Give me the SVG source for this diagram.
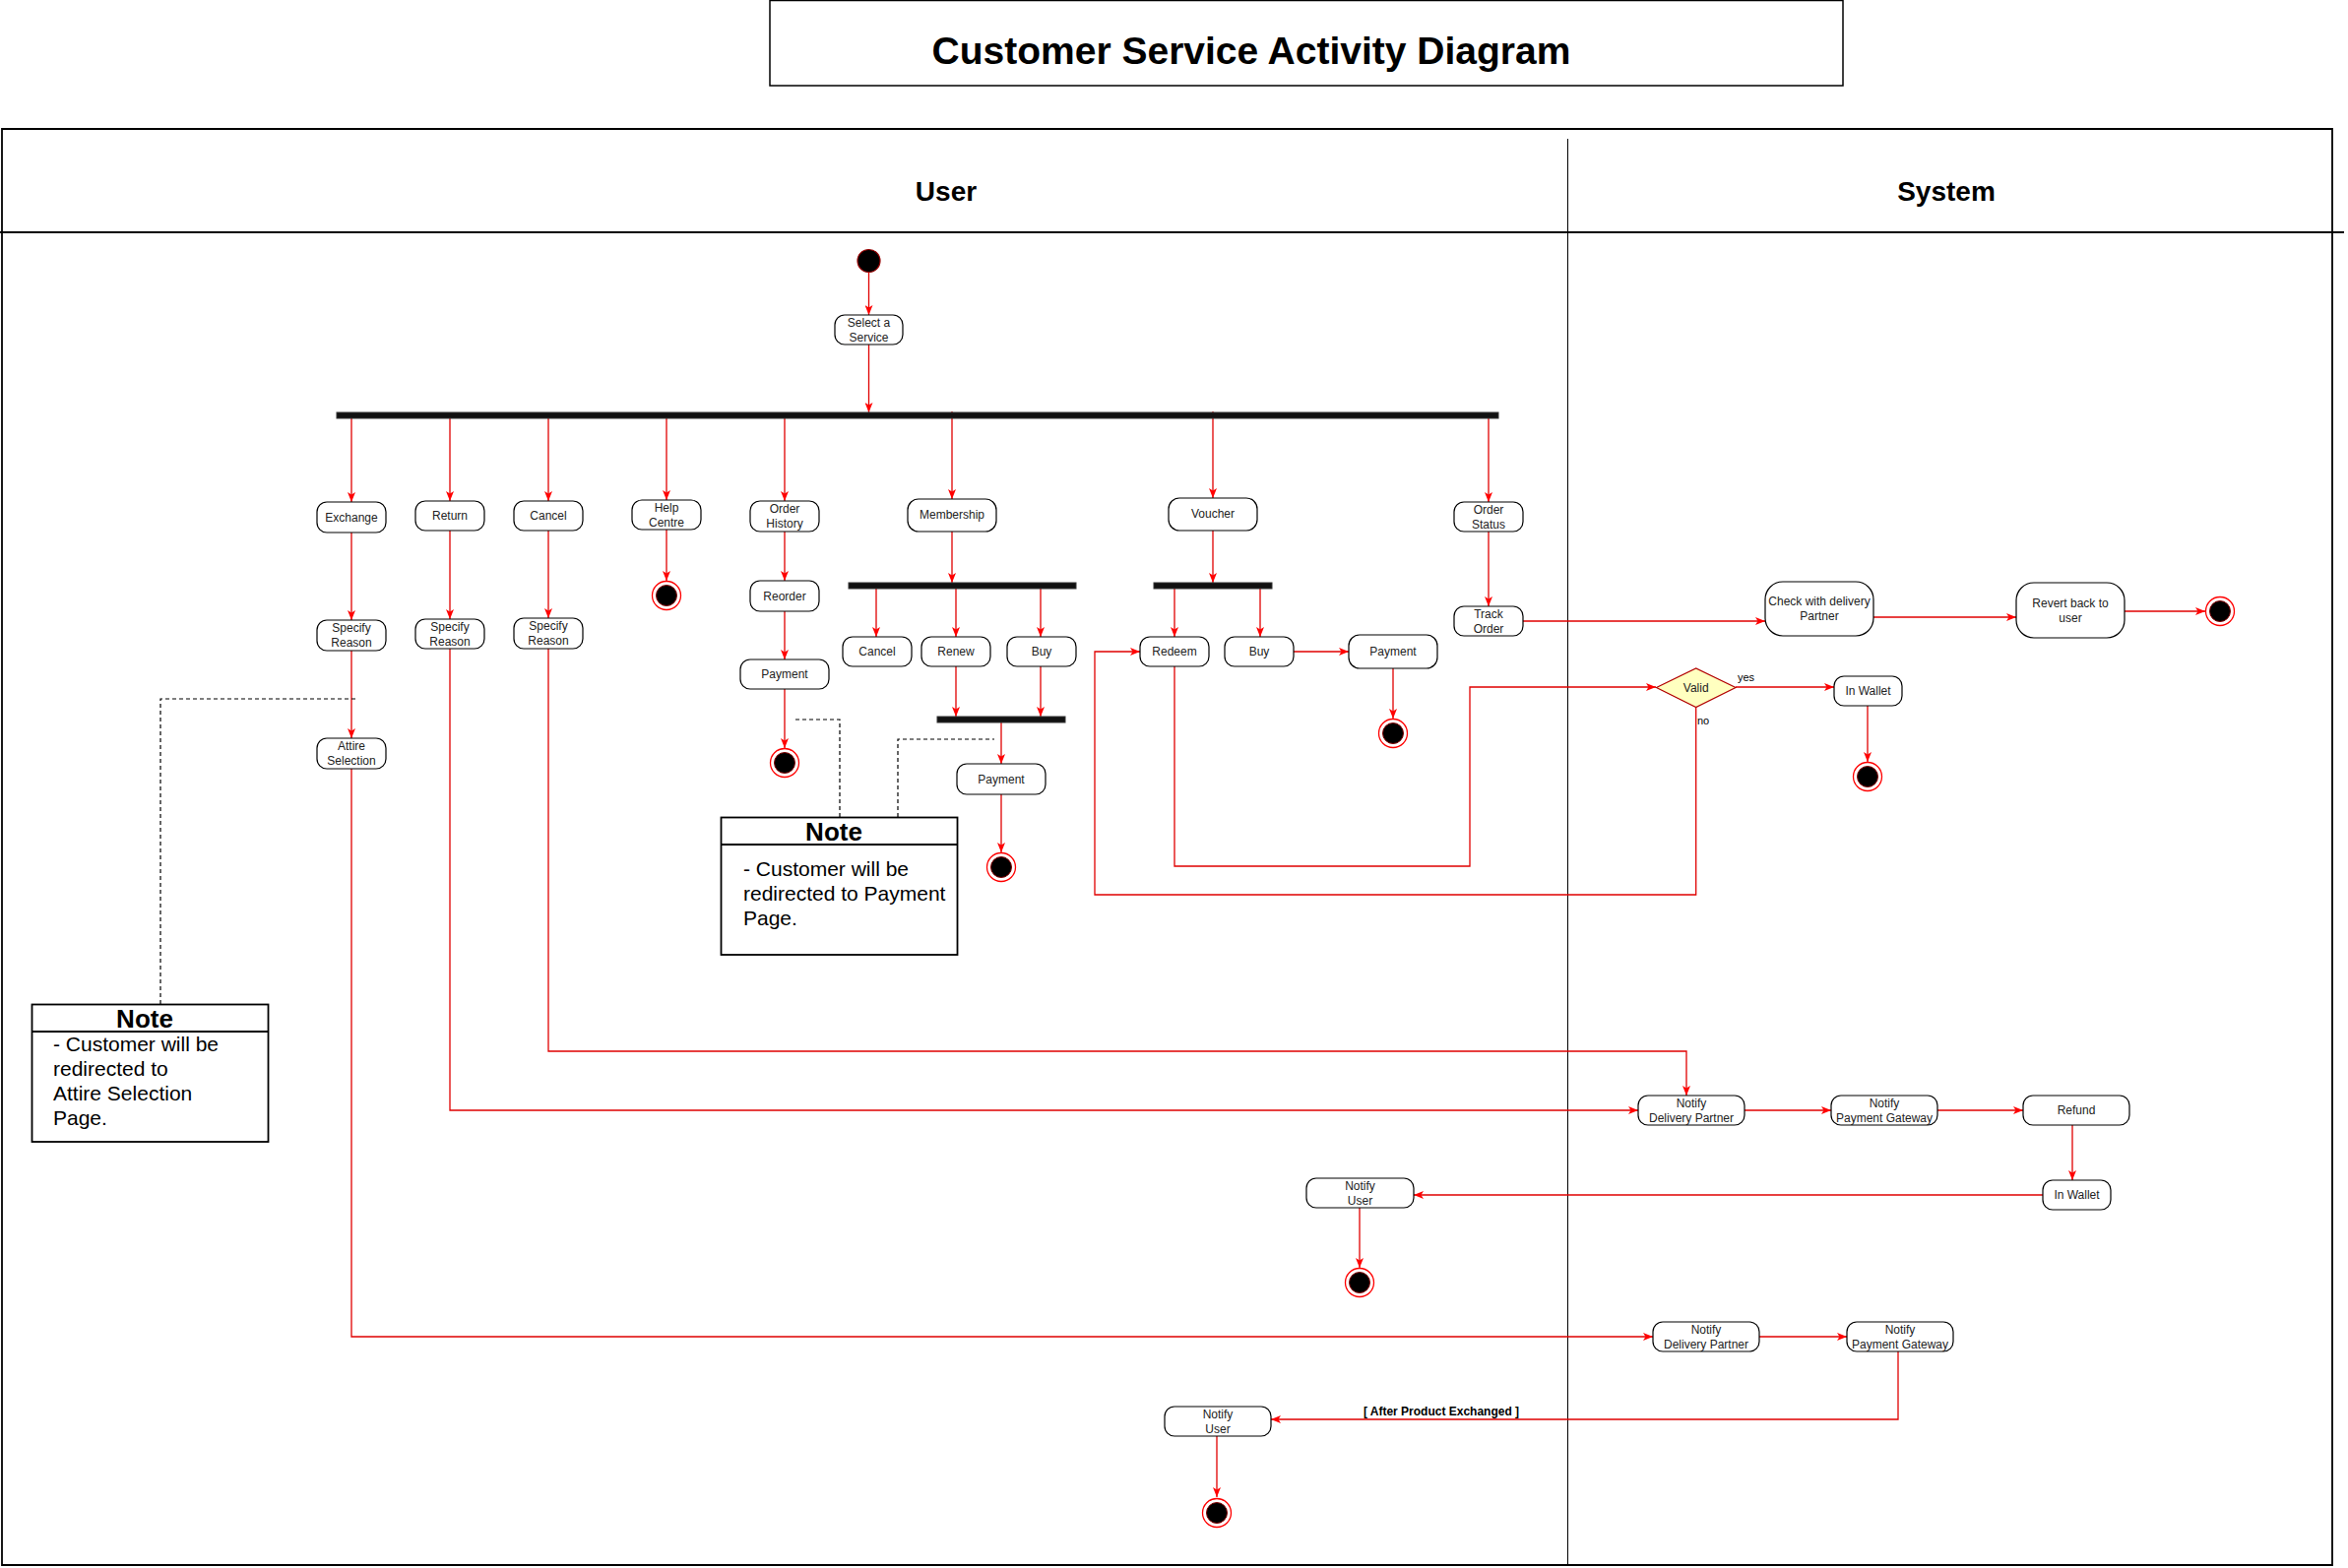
<svg xmlns="http://www.w3.org/2000/svg" width="2385" height="1593" viewBox="0 0 2385 1593">
<style>
.act{fill:#fff;stroke:#000;stroke-width:1.2}
.t{font-family:"Liberation Sans",Arial,sans-serif;font-size:12px;fill:#222;text-anchor:middle;dominant-baseline:central}
.bar{fill:#111;stroke:#333;stroke-width:1}
.c{fill:none;stroke:#e00000;stroke-width:1.3}
.ca{fill:none;stroke:#e00000;stroke-width:1.3;marker-end:url(#arr)}
.dash{fill:none;stroke:#000;stroke-width:1.2;stroke-dasharray:4 3}
.endo{fill:#fff;stroke:#ff0000;stroke-width:1.3}
.endi{fill:#000;stroke:#800000;stroke-width:1}
.note{fill:#fff;stroke:#000;stroke-width:1.8}
.nt{font-family:"Liberation Sans",Arial,sans-serif;font-size:26px;font-weight:bold;text-anchor:middle;fill:#000}
.nb{font-family:"Liberation Sans",Arial,sans-serif;font-size:21px;fill:#000}
.lane{fill:none;stroke:#000;stroke-width:1.8}
.lt{font-family:"Liberation Sans",Arial,sans-serif;font-size:28px;font-weight:bold;text-anchor:middle;fill:#000}
.lbl{font-family:"Liberation Sans",Arial,sans-serif;font-size:11px;fill:#000}
</style>
<defs>
<marker id="arr" viewBox="0 0 10 8" refX="10" refY="4" markerWidth="10" markerHeight="8" markerUnits="userSpaceOnUse" orient="auto">
<path d="M0,0 L10,4 L0,8 L2.5,4 z" fill="#ff0000"/>
</marker>
</defs>
<rect width="2385" height="1593" fill="#fff"/>

<g id="title">
<rect x="782" y="0.5" width="1090" height="86.5" fill="#fff" stroke="#000" stroke-width="1.5"/>
<text x="1271" y="65" font-family="'Comic Sans MS','Liberation Sans',Arial,sans-serif" font-size="39" font-weight="bold" text-anchor="middle">Customer Service Activity Diagram</text>
</g>

<g id="swimlanes">
<path class="lane" d="M2,131 H2369 V1590 H2 Z"/>
<line class="lane" x1="0" y1="236" x2="2381" y2="236"/>
<line x1="1592.5" y1="141" x2="1592.5" y2="1590" stroke="#000" stroke-width="1"/>
<text class="lt" x="961" y="204">User</text>
<text class="lt" x="1977" y="204">System</text>
</g>

<g id="connectors">
<line class="ca" x1="882.5" y1="277" x2="882.5" y2="320"/>
<line class="ca" x1="882.5" y1="350" x2="882.5" y2="419"/>
<line class="ca" x1="357" y1="422" x2="357" y2="510"/>
<line class="ca" x1="457" y1="422" x2="457" y2="509"/>
<line class="ca" x1="557" y1="422" x2="557" y2="509"/>
<line class="ca" x1="677" y1="422" x2="677" y2="508"/>
<line class="ca" x1="797" y1="422" x2="797" y2="509"/>
<line class="ca" x1="967" y1="418" x2="967" y2="507"/>
<line class="ca" x1="1232" y1="418" x2="1232" y2="506"/>
<line class="ca" x1="1512" y1="422" x2="1512" y2="510"/>
<line class="ca" x1="357" y1="541" x2="357" y2="630"/>
<line class="ca" x1="457" y1="539" x2="457" y2="629"/>
<line class="ca" x1="557" y1="539" x2="557" y2="628"/>
<line class="ca" x1="677" y1="538" x2="677" y2="590"/>
<line class="ca" x1="797" y1="540" x2="797" y2="590"/>
<line class="ca" x1="797" y1="621" x2="797" y2="670"/>
<line class="ca" x1="797" y1="700" x2="797" y2="760"/>
<line class="ca" x1="357" y1="661" x2="357" y2="750"/>
<line class="ca" x1="967" y1="540" x2="967" y2="592"/>
<line class="ca" x1="890" y1="598" x2="890" y2="647"/>
<line class="ca" x1="971" y1="598" x2="971" y2="647"/>
<line class="ca" x1="1057" y1="598" x2="1057" y2="647"/>
<line class="ca" x1="971" y1="677" x2="971" y2="728"/>
<line class="ca" x1="1057" y1="677" x2="1057" y2="728"/>
<line class="ca" x1="1017" y1="730" x2="1017" y2="776"/>
<line class="ca" x1="1017" y1="807" x2="1017" y2="866"/>
<line class="ca" x1="1232" y1="539" x2="1232" y2="592"/>
<line class="ca" x1="1193" y1="598" x2="1193" y2="647"/>
<line class="ca" x1="1280" y1="598" x2="1280" y2="647"/>
<line class="ca" x1="1314" y1="662" x2="1370" y2="662"/>
<line class="ca" x1="1415" y1="679" x2="1415" y2="730"/>
<line class="ca" x1="1512" y1="540" x2="1512" y2="616"/>
<line class="ca" x1="1547" y1="631" x2="1793" y2="631"/>
<line class="ca" x1="1903" y1="627" x2="2048" y2="627"/>
<line class="ca" x1="2158" y1="621" x2="2240" y2="621"/>
<polyline class="ca" points="1193,677 1193,880 1493,880 1493,698 1682,698"/>
<line class="ca" x1="1763" y1="698" x2="1863" y2="698"/>
<text class="lbl" x="1765" y="692">yes</text>
<line class="ca" x1="1897" y1="717" x2="1897" y2="774"/>
<polyline class="ca" points="1722.7,718.5 1722.7,909 1112,909 1112,662 1158,662"/>
<text class="lbl" x="1724" y="736">no</text>
<polyline class="ca" points="557,659 557,1068 1713,1068 1713,1113"/>
<polyline class="ca" points="457,659 457,1128 1664,1128"/>
<line class="ca" x1="1772" y1="1128" x2="1860" y2="1128"/>
<line class="ca" x1="1968" y1="1128" x2="2055" y2="1128"/>
<line class="ca" x1="2105" y1="1143" x2="2105" y2="1199"/>
<line class="ca" x1="2075" y1="1214" x2="1436" y2="1214"/>
<line class="ca" x1="1381" y1="1227" x2="1381" y2="1288"/>
<polyline class="ca" points="357,781 357,1358 1679,1358"/>
<line class="ca" x1="1787" y1="1358" x2="1876" y2="1358"/>
<polyline class="ca" points="1928,1373 1928,1442 1291,1442"/>
<text x="1464" y="1438" font-family="'Liberation Sans',Arial,sans-serif" font-size="12" font-weight="bold" text-anchor="middle">[ After Product Exchanged ]</text>
<line class="ca" x1="1236" y1="1459" x2="1236" y2="1521"/>
<polyline class="dash" points="163,1020 163,710 363,710"/>
<polyline class="dash" points="853,830 853,731 805,731"/>
<polyline class="dash" points="912,830 912,751 1010,751"/>
</g>

<g id="start"><circle cx="882.5" cy="265" r="11.5" fill="#000" stroke="#990000" stroke-width="1.2"/></g>
<g id="select-service"><rect class="act" x="848" y="320" width="69" height="30" rx="10"/><text class="t" x="882.5" y="327.5">Select a</text><text class="t" x="882.5" y="342.5">Service</text></g>

<g id="fork-main"><rect class="bar" x="342" y="419" width="1180" height="6"/></g>
<g id="fork-membership"><rect class="bar" x="862" y="592" width="231" height="6"/></g>
<g id="join-membership"><rect class="bar" x="952" y="728" width="130" height="6"/></g>
<g id="fork-voucher"><rect class="bar" x="1172" y="592" width="120" height="6"/></g>

<g id="exchange"><rect class="act" x="322" y="510" width="70" height="31" rx="10"/><text class="t" x="357" y="525.5">Exchange</text></g>
<g id="return"><rect class="act" x="422" y="509" width="70" height="30" rx="10"/><text class="t" x="457" y="524">Return</text></g>
<g id="cancel"><rect class="act" x="522" y="509" width="70" height="30" rx="10"/><text class="t" x="557" y="524">Cancel</text></g>
<g id="help-centre"><rect class="act" x="642" y="508" width="70" height="30" rx="10"/><text class="t" x="677" y="515.5">Help</text><text class="t" x="677" y="530.5">Centre</text></g>
<g id="order-history"><rect class="act" x="762" y="509" width="70" height="31" rx="10"/><text class="t" x="797" y="517">Order</text><text class="t" x="797" y="532">History</text></g>
<g id="membership"><rect class="act" x="922" y="507" width="90" height="33" rx="11"/><text class="t" x="967" y="523">Membership</text></g>
<g id="voucher"><rect class="act" x="1187" y="506" width="90" height="33" rx="11"/><text class="t" x="1232" y="522">Voucher</text></g>
<g id="order-status"><rect class="act" x="1477" y="510" width="70" height="30" rx="10"/><text class="t" x="1512" y="517.5">Order</text><text class="t" x="1512" y="532.5">Status</text></g>

<g id="reason-exchange"><rect class="act" x="322" y="630" width="70" height="31" rx="10"/><text class="t" x="357" y="638">Specify</text><text class="t" x="357" y="653">Reason</text></g>
<g id="reason-return"><rect class="act" x="422" y="629" width="70" height="30" rx="10"/><text class="t" x="457" y="636.5">Specify</text><text class="t" x="457" y="651.5">Reason</text></g>
<g id="reason-cancel"><rect class="act" x="522" y="628" width="70" height="31" rx="10"/><text class="t" x="557" y="636">Specify</text><text class="t" x="557" y="651">Reason</text></g>
<g id="end-help"><circle class="endo" cx="677" cy="605" r="14.5"/><circle class="endi" cx="677" cy="605" r="10.5"/></g>
<g id="reorder"><rect class="act" x="762" y="590" width="70" height="31" rx="10"/><text class="t" x="797" y="605.5">Reorder</text></g>
<g id="payment-reorder"><rect class="act" x="752" y="670" width="90" height="30" rx="10"/><text class="t" x="797" y="685">Payment</text></g>
<g id="end-reorder"><circle class="endo" cx="797" cy="775" r="14.5"/><circle class="endi" cx="797" cy="775" r="10.5"/></g>
<g id="attire-selection"><rect class="act" x="322" y="750" width="70" height="31" rx="10"/><text class="t" x="357" y="758">Attire</text><text class="t" x="357" y="773">Selection</text></g>

<g id="m-cancel"><rect class="act" x="856" y="647" width="70" height="30" rx="10"/><text class="t" x="891" y="662">Cancel</text></g>
<g id="m-renew"><rect class="act" x="936" y="647" width="70" height="30" rx="10"/><text class="t" x="971" y="662">Renew</text></g>
<g id="m-buy"><rect class="act" x="1023" y="647" width="70" height="30" rx="10"/><text class="t" x="1058" y="662">Buy</text></g>
<g id="m-payment"><rect class="act" x="972" y="776" width="90" height="31" rx="10"/><text class="t" x="1017" y="791.5">Payment</text></g>
<g id="end-membership"><circle class="endo" cx="1017" cy="881" r="14.5"/><circle class="endi" cx="1017" cy="881" r="10.5"/></g>

<g id="v-redeem"><rect class="act" x="1158" y="647" width="70" height="30" rx="10"/><text class="t" x="1193" y="662">Redeem</text></g>
<g id="v-buy"><rect class="act" x="1244" y="647" width="70" height="30" rx="10"/><text class="t" x="1279" y="662">Buy</text></g>
<g id="v-payment"><rect class="act" x="1370" y="645" width="90" height="34" rx="11"/><text class="t" x="1415" y="662">Payment</text></g>
<g id="end-voucher"><circle class="endo" cx="1415" cy="745" r="14.5"/><circle class="endi" cx="1415" cy="745" r="10.5"/></g>

<g id="track-order"><rect class="act" x="1477" y="616" width="70" height="30" rx="10"/><text class="t" x="1512" y="623.5">Track</text><text class="t" x="1512" y="638.5">Order</text></g>
<g id="check-delivery"><rect class="act" x="1793" y="591" width="110" height="55" rx="18"/><text class="t" x="1848" y="611">Check with delivery</text><text class="t" x="1848" y="626">Partner</text></g>
<g id="revert-user"><rect class="act" x="2048" y="592" width="110" height="56" rx="18"/><text class="t" x="2103" y="612.5">Revert back to</text><text class="t" x="2103" y="627.5">user</text></g>
<g id="end-track"><circle class="endo" cx="2255" cy="621" r="14.5"/><circle class="endi" cx="2255" cy="621" r="10.5"/></g>

<g id="valid"><polygon points="1682.5,698.5 1722.7,679 1763,698.5 1722.7,718.5" fill="#ffffc0" stroke="#b20000" stroke-width="1.2"/><text class="t" x="1722.7" y="698.5">Valid</text></g>
<g id="in-wallet-voucher"><rect class="act" x="1863" y="687" width="69" height="30" rx="10"/><text class="t" x="1897.5" y="702">In Wallet</text></g>
<g id="end-valid"><circle class="endo" cx="1897" cy="789" r="14.5"/><circle class="endi" cx="1897" cy="789" r="10.5"/></g>

<g id="notify-delivery-1"><rect class="act" x="1664" y="1113" width="108" height="30" rx="10"/><text class="t" x="1718" y="1120.5">Notify</text><text class="t" x="1718" y="1135.5">Delivery Partner</text></g>
<g id="notify-payment-1"><rect class="act" x="1860" y="1113" width="108" height="30" rx="10"/><text class="t" x="1914" y="1120.5">Notify</text><text class="t" x="1914" y="1135.5">Payment Gateway</text></g>
<g id="refund"><rect class="act" x="2055" y="1113" width="108" height="30" rx="10"/><text class="t" x="2109" y="1128">Refund</text></g>
<g id="in-wallet-refund"><rect class="act" x="2075" y="1199" width="69" height="30" rx="10"/><text class="t" x="2109.5" y="1214">In Wallet</text></g>
<g id="notify-user-1"><rect class="act" x="1327" y="1197" width="109" height="30" rx="10"/><text class="t" x="1381.5" y="1204.5">Notify</text><text class="t" x="1381.5" y="1219.5">User</text></g>
<g id="end-refund"><circle class="endo" cx="1381" cy="1303" r="14.5"/><circle class="endi" cx="1381" cy="1303" r="10.5"/></g>

<g id="notify-delivery-2"><rect class="act" x="1679" y="1343" width="108" height="30" rx="10"/><text class="t" x="1733" y="1350.5">Notify</text><text class="t" x="1733" y="1365.5">Delivery Partner</text></g>
<g id="notify-payment-2"><rect class="act" x="1876" y="1343" width="108" height="30" rx="10"/><text class="t" x="1930" y="1350.5">Notify</text><text class="t" x="1930" y="1365.5">Payment Gateway</text></g>
<g id="notify-user-2"><rect class="act" x="1183" y="1429" width="108" height="30" rx="10"/><text class="t" x="1237" y="1436.5">Notify</text><text class="t" x="1237" y="1451.5">User</text></g>
<g id="end-exchange"><circle class="endo" cx="1236" cy="1537" r="14.5"/><circle class="endi" cx="1236" cy="1537" r="10.5"/></g>

<g id="note-attire">
<rect class="note" x="32.5" y="1020.5" width="240" height="139.5"/>
<line x1="32.5" y1="1048" x2="272.5" y2="1048" stroke="#000" stroke-width="1.8"/>
<text class="nt" x="147" y="1044">Note</text>
<text class="nb" x="54" y="1068">- Customer will be</text>
<text class="nb" x="54" y="1093">redirected to</text>
<text class="nb" x="54" y="1118">Attire Selection</text>
<text class="nb" x="54" y="1143">Page.</text>
</g>
<g id="note-payment">
<rect class="note" x="732.5" y="830.5" width="240" height="139.5"/>
<line x1="732.5" y1="858" x2="972.5" y2="858" stroke="#000" stroke-width="1.8"/>
<text class="nt" x="847" y="854">Note</text>
<text class="nb" x="755" y="890">- Customer will be</text>
<text class="nb" x="755" y="915">redirected to Payment</text>
<text class="nb" x="755" y="940">Page.</text>
</g>
</svg>
